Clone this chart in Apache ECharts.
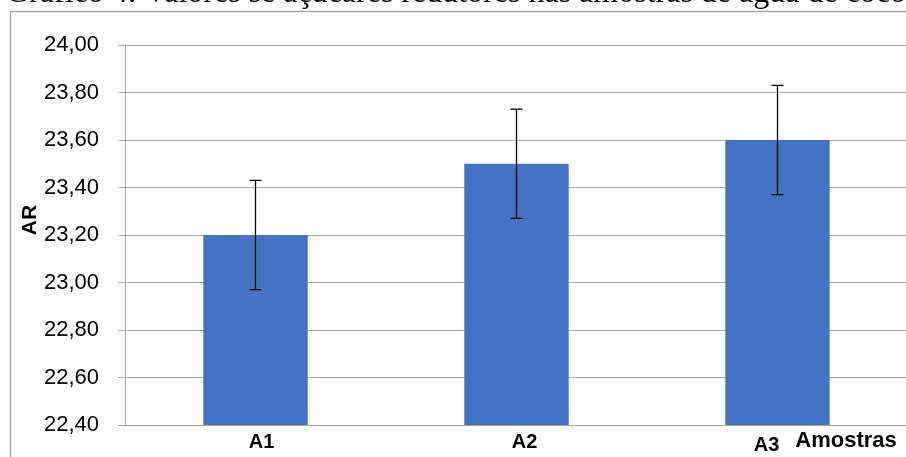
<!DOCTYPE html>
<html>
<head>
<meta charset="utf-8">
<script src="https://cdn.jsdelivr.net/npm/echarts@6/dist/echarts.min.js"></script>
<style>
html,body{margin:0;padding:0;background:#fff;}
#chart{width:906px;height:457px;}
</style>
</head>
<body>
<div id="chart"></div>
<script>
var categories = ['A1', 'A2', 'A3'];
var values = [23.20, 23.50, 23.60];
var errors = [0.23, 0.23, 0.23];
var yTicks = {min: 22.4, max: 24.0, interval: 0.2};
var titleText = 'Gráfico 4: Valores se açúcares redutores nas amostras de água de coco';
var yName = 'AR';
var xName = 'Amostras';

var errData = categories.map(function (c, i) {
  return [i, values[i] - errors[i], values[i] + errors[i]];
});

var lblBase = {fontFamily: 'Liberation Sans', fontWeight: 'bold', fontSize: 20, color: '#000'};
var chart = echarts.init(document.getElementById('chart'));
chart.setOption({
  animation: false,
  grid: {left: 125, top: 45, right: -2, bottom: 32, containLabel: false, outerBoundsMode: 'none'},
  xAxis: {
    type: 'category',
    data: categories,
    axisLine: {lineStyle: {color: '#a6a6a6', width: 1}},
    axisTick: {show: false},
    axisLabel: {
      margin: 7,
      color: '#000',
      fontFamily: 'Liberation Sans',
      fontWeight: 'bold',
      fontSize: 20,
      formatter: function (v, i) { return '{l' + i + '|' + v + '}'; },
      rich: {
        l0: Object.assign({padding: [0, 0, 0, 12]}, lblBase),
        l1: Object.assign({padding: [0, 0, 0, 16]}, lblBase),
        l2: Object.assign({padding: [3, 22, 0, 0]}, lblBase)
      }
    }
  },
  yAxis: {
    type: 'value',
    min: yTicks.min,
    max: yTicks.max,
    interval: yTicks.interval,
    axisLine: {show: true, lineStyle: {color: '#a6a6a6', width: 1}},
    axisTick: {show: true, length: 7, lineStyle: {color: '#a6a6a6'}},
    splitLine: {lineStyle: {color: '#a6a6a6', width: 1}},
    axisLabel: {
      margin: 26,
      color: '#000',
      fontFamily: 'Liberation Sans',
      fontSize: 22,
      formatter: function (v) { return v.toFixed(2).replace('.', ','); }
    }
  },
  series: [
    {
      type: 'bar',
      data: values,
      barWidth: '40%',
      itemStyle: {color: '#4472C4'}
    },
    {
      type: 'custom',
      data: errData,
      z: 10,
      renderItem: function (params, api) {
        var x = api.value(0);
        var lo = api.coord([x, api.value(1)]);
        var hi = api.coord([x, api.value(2)]);
        var hw = 6;
        var st = {stroke: '#000', lineWidth: 1.3};
        return {
          type: 'group',
          children: [
            {type: 'line', shape: {x1: lo[0], y1: lo[1], x2: hi[0], y2: hi[1]}, style: st},
            {type: 'line', shape: {x1: lo[0] - hw, y1: lo[1], x2: lo[0] + hw, y2: lo[1]}, style: st},
            {type: 'line', shape: {x1: hi[0] - hw, y1: hi[1], x2: hi[0] + hw, y2: hi[1]}, style: st}
          ]
        };
      }
    }
  ],
  graphic: [
    {type: 'rect', left: 8, top: 9, shape: {width: 1000, height: 1000}, style: {fill: 'none', stroke: '#a6a6a6', lineWidth: 1.5}, silent: true},
    {type: 'text', x: 6, y: 10, style: {text: titleText, font: '32px "Liberation Serif"', fill: '#000', textAlign: 'left', textVerticalAlign: 'bottom'}},
    {type: 'text', x: 30, y: 220, rotation: Math.PI / 2, style: {text: yName, font: 'bold 21px "Liberation Sans"', fill: '#000', textAlign: 'center', textVerticalAlign: 'middle'}},
    {type: 'text', x: 846, y: 441, style: {text: xName, font: 'bold 22px "Liberation Sans"', fill: '#000', textAlign: 'center', textVerticalAlign: 'middle'}}
  ]
});
</script>
</body>
</html>
